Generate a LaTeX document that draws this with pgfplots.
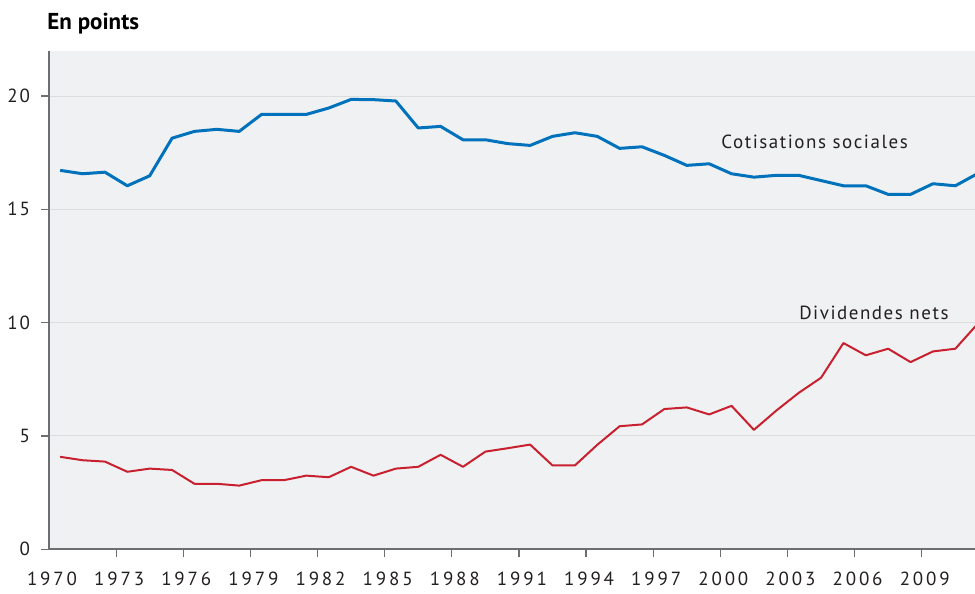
\documentclass[border=0pt]{standalone}
\usepackage{fontspec}
\setmainfont{PT Sans}
\usepackage{pgfplots}
\pgfplotsset{compat=1.18}
\usetikzlibrary{calc}
\definecolor{bgc}{HTML}{F0F1F3}
\definecolor{blu}{HTML}{0072BC}
\definecolor{rd}{HTML}{C9202F}
\definecolor{axc}{HTML}{6D6E71}
\definecolor{grc}{HTML}{DCDDDF}
\definecolor{txt}{HTML}{231F20}
\pgfplotstableread{
year cotis divid
1970 16.72 4.08
1971 16.57 3.93
1972 16.64 3.87
1973 16.04 3.42
1974 16.48 3.56
1975 18.14 3.50
1976 18.44 2.89
1977 18.53 2.89
1978 18.44 2.81
1979 19.19 3.05
1980 19.19 3.05
1981 19.19 3.25
1982 19.47 3.18
1983 19.85 3.64
1984 19.84 3.25
1985 19.78 3.56
1986 18.59 3.64
1987 18.66 4.17
1988 18.07 3.64
1989 18.07 4.31
1990 17.90 4.46
1991 17.82 4.62
1992 18.22 3.70
1993 18.38 3.70
1994 18.22 4.61
1995 17.69 5.43
1996 17.76 5.51
1997 17.38 6.19
1998 16.94 6.26
1999 17.01 5.95
2000 16.57 6.33
2001 16.42 5.27
2002 16.50 6.12
2003 16.50 6.90
2004 16.27 7.57
2005 16.04 9.10
2006 16.04 8.56
2007 15.66 8.85
2008 15.66 8.26
2009 16.13 8.73
2010 16.04 8.85
2011 16.58 9.95
}\datatable
\begin{document}
\begin{tikzpicture}
\begin{axis}[
  scale only axis, width=463pt, height=249.3pt,
  xmin=1969.5, xmax=2010.88, ymin=0, ymax=22,
  axis lines*=left,
  axis line style={axc, line width=1pt, -},
  every outer x axis line/.append style={-},
  every outer y axis line/.append style={-},
  axis background/.style={fill=bgc},
  ytick={0,5,10,15,20}, yticklabels={0,5,10,15,20},
  ymajorgrids, grid style={grc, line width=0.5pt},
  xtick={1972.5,1975.5,1978.5,1981.5,1984.5,1987.5,1990.5,1993.5,1996.5,1999.5,2002.5,2005.5,2008.5},
  xticklabels={1973,1976,1979,1982,1985,1988,1991,1994,1997,2000,2003,2006,2009},
  extra x ticks={1969.5}, extra x tick labels={1970},
  extra x tick style={major tick length=0pt, grid=none, x tick label style={yshift=-4pt}},
  tick style={axc, line width=0.6pt},
  major tick length=4pt, tick align=outside,
  xtick pos=bottom, ytick pos=left,
  x tick label style={font=\fontsize{9.5}{11}\selectfont\addfontfeatures{LetterSpace=15}, text=txt, yshift=-6pt, xshift=1.5pt, inner ysep=1pt},
  y tick label style={font=\fontsize{9.5}{11}\selectfont\addfontfeatures{LetterSpace=10}, text=txt, xshift=-2pt},
  clip=true,
]
\addplot[blu, line width=1.5pt, line join=round] table[x=year, y=cotis] {\datatable};
\addplot[rd, line width=1pt, line join=round] table[x=year, y=divid] {\datatable};
\node[anchor=base west, inner sep=0pt, text=txt, font=\fontsize{9.5}{11}\selectfont\addfontfeatures{LetterSpace=8}] at (axis cs:1999.53,17.69) {Cotisations sociales};
\node[anchor=base west, inner sep=0pt, text=txt, font=\fontsize{9.5}{11}\selectfont\addfontfeatures{LetterSpace=8}] at (axis cs:2003.01,10.14) {Dividendes nets};
\coordinate (sw) at (rel axis cs:0,0);
\coordinate (ne) at (rel axis cs:1,1);
\coordinate (nw) at (rel axis cs:0,1);
\end{axis}
\node[anchor=base west, inner sep=0pt, font=\fontsize{11.5}{13}\selectfont\bfseries, text=black] at ($(nw)+(-1pt,10.35pt)$) {En points};
\pgfresetboundingbox
\path ($(sw)+(-24.5pt,-22.35pt)$) rectangle ($(ne)+(0pt,25.35pt)$);
\end{tikzpicture}
\end{document}
